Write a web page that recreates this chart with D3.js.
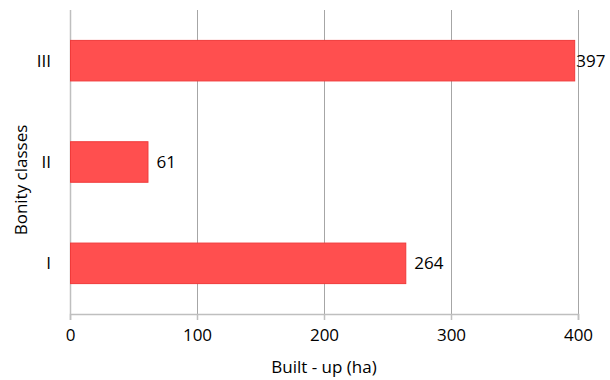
<!DOCTYPE html>
<html>
<head>
<meta charset="utf-8">
<script src="https://cdn.jsdelivr.net/npm/d3@7"></script>
<style>
  body { margin: 0; background: #fff; }
  text { font-family: "Open Sans", "DejaVu Sans", sans-serif; fill: #000; }
</style>
</head>
<body>
<div id="chart"></div>
<script>
// bonity classes, top to bottom
var classes = ["III", "II", "I"];
var builtUp = [397, 61, 264];
var xTicks = [0, 100, 200, 300, 400];

var W = 610, H = 380;
var margin = {top: 10, right: 32, bottom: 66, left: 70};
var width = W - margin.left - margin.right,
    height = H - margin.top - margin.bottom;
var fs = "17px";

var svg = d3.select("#chart").append("svg")
    .attr("width", W)
    .attr("height", H);

var g = svg.append("g")
    .attr("transform", "translate(" + margin.left + "," + margin.top + ")");

var x = d3.scaleLinear().domain([0, 400]).range([0, width]);
var y = d3.scaleBand().domain(classes).range([0, height]).paddingInner(0.6).paddingOuter(0.3);

// vertical gridlines
g.selectAll("line.grid")
    .data(xTicks.slice(1))
    .enter().append("line")
    .attr("class", "grid")
    .attr("x1", function (d) { return Math.round(x(d)) + 0.5; })
    .attr("x2", function (d) { return Math.round(x(d)) + 0.5; })
    .attr("y1", 0)
    .attr("y2", height)
    .attr("stroke", "#a6a6a6")
    .attr("stroke-width", 1);

// x axis
var xAxis = g.append("g")
    .attr("transform", "translate(0," + height + ")")
    .call(d3.axisBottom(x).tickValues(xTicks).tickSize(6).tickPadding(9));
xAxis.select(".domain").attr("stroke", "#bfbfbf").attr("stroke-width", 1.5);
xAxis.selectAll(".tick line").attr("stroke", "#bfbfbf").attr("stroke-width", 1.5);
xAxis.selectAll("text").style("font-size", fs).attr("fill", "#000");

// y axis line
g.append("line")
    .attr("x1", 0.5).attr("x2", 0.5)
    .attr("y1", 0).attr("y2", height)
    .attr("stroke", "#bfbfbf")
    .attr("stroke-width", 1.5);

// category labels
g.selectAll("text.cat")
    .data(classes)
    .enter().append("text")
    .attr("class", "cat")
    .attr("x", -19)
    .attr("y", function (d) { return y(d) + y.bandwidth() / 2; })
    .attr("dy", "0.35em")
    .attr("text-anchor", "end")
    .style("font-size", fs)
    .text(function (d) { return d; });

// bars
g.selectAll("rect.bar")
    .data(builtUp)
    .enter().append("rect")
    .attr("class", "bar")
    .attr("x", 0.5)
    .attr("y", function (d, i) { return y(classes[i]); })
    .attr("width", function (d) { return x(d); })
    .attr("height", y.bandwidth())
    .attr("fill", "#ff4f4f")
    .attr("stroke", "#f03a3a")
    .attr("stroke-width", 1);

// value labels
g.selectAll("text.val")
    .data(builtUp)
    .enter().append("text")
    .attr("class", "val")
    .attr("x", function (d) { return x(d) + (d > 390 ? 2 : 9); })
    .attr("y", function (d, i) { return y(classes[i]) + y.bandwidth() / 2; })
    .attr("dy", "0.35em")
    .style("font-size", fs)
    .text(function (d) { return d; });

// axis titles
svg.append("text")
    .attr("x", margin.left + width / 2)
    .attr("y", 373)
    .attr("text-anchor", "middle")
    .style("font-size", fs)
    .text("Built - up (ha)");

svg.append("text")
    .attr("transform", "translate(27,180) rotate(-90)")
    .attr("text-anchor", "middle")
    .style("font-size", fs)
    .text("Bonity classes");
</script>
</body>
</html>
